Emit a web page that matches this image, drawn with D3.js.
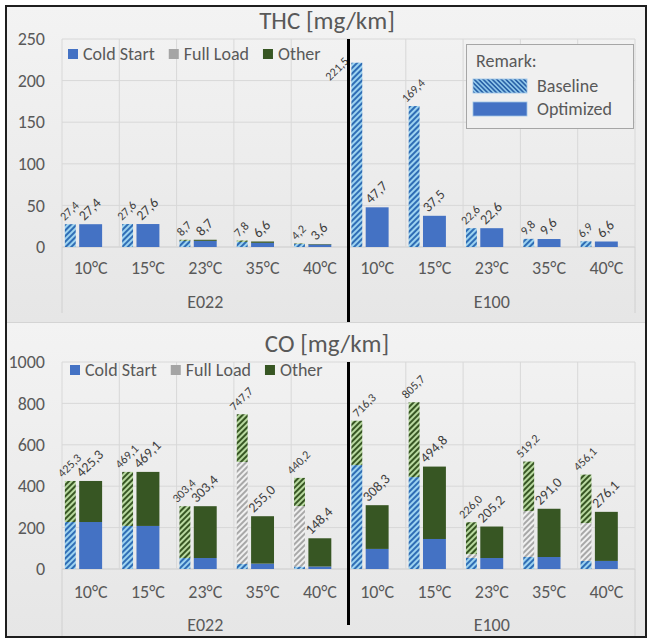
<!DOCTYPE html>
<html>
<head>
<meta charset="utf-8">
<script src="https://cdn.jsdelivr.net/npm/d3@7"></script>
<style>
  body { margin: 0; background: #fff; }
  svg { display: block; }
  text { font-family: Carlito, "Open Sans", Lato, sans-serif; }
</style>
</head>
<body>
<svg id="chart" width="648" height="639"></svg>
<script>
// ---- data -----------------------------------------------------------
const fuels = ["E022", "E100"];
const temperatures = ["10°C", "15°C", "23°C", "35°C", "40°C"];
const components = ["Cold Start", "Full Load", "Other"];
const variants = ["Baseline", "Optimized"];

// THC [mg/km], order: E022 10..40°C, then E100 10..40°C
const thcBaselineTotal     = [27.4, 27.6, 8.7, 7.8, 4.2, 221.5, 169.4, 22.6, 9.8, 6.9];
const thcBaselineColdStart = [27.4, 27.6, 7.4, 6.2, 3.6, 221.5, 169.4, 22.6, 9.8, 6.9];
const thcBaselineFullLoad  = [0, 0, 0, 0, 0, 0, 0, 0, 0, 0];
const thcBaselineOther     = [0, 0, 1.3, 1.6, 0.6, 0, 0, 0, 0, 0];
const thcOptimizedTotal     = [27.4, 27.6, 8.7, 6.6, 3.6, 47.7, 37.5, 22.6, 9.6, 6.6];
const thcOptimizedColdStart = [27.4, 27.6, 7.4, 5.0, 3.0, 47.7, 37.5, 22.6, 9.6, 6.6];
const thcOptimizedFullLoad  = [0, 0, 0, 0, 0, 0, 0, 0, 0, 0];
const thcOptimizedOther     = [0, 0, 1.3, 1.6, 0.6, 0, 0, 0, 0, 0];

// CO [mg/km]
const coBaselineTotal     = [425.3, 469.1, 303.4, 747.7, 440.2, 716.3, 805.7, 226.0, 519.2, 456.1];
const coBaselineColdStart = [227, 208, 53, 24, 12, 502, 444, 53, 58, 39];
const coBaselineFullLoad  = [0, 0, 0, 493, 292, 0, 0, 19, 222, 183];
const coBaselineOther     = [198.3, 261.1, 250.4, 230.7, 136.2, 214.3, 361.7, 154.0, 239.2, 234.1];
const coOptimizedTotal     = [425.3, 469.1, 303.4, 255.0, 148.4, 308.3, 494.8, 205.2, 291.0, 276.1];
const coOptimizedColdStart = [227, 208, 53, 26, 12, 97, 145, 53, 58, 39];
const coOptimizedFullLoad  = [0, 0, 0, 0, 0, 0, 0, 0, 0, 0];
const coOptimizedOther     = [198.3, 261.1, 250.4, 229.0, 136.4, 211.3, 349.8, 152.2, 233.0, 237.1];

const thcTicks = [0, 50, 100, 150, 200, 250];
const coTicks = [0, 200, 400, 600, 800, 1000];

// ---- styling --------------------------------------------------------
const solidColor = { "Cold Start": "#4472C4", "Full Load": "#A5A5A5", "Other": "#375623" };
const hatchColors = {
  "Cold Start": { bg: "#9DD3F0", fg: "#2F6DB5" },
  "Full Load":  { bg: "#F0F0F0", fg: "#A8A8A8" },
  "Other":      { bg: "#B8D9A0", fg: "#375623" }
};
const textColor = "#595959";
const labelColor = "#404040";
const axisFont = "18px";
const fmt = d3.formatLocale({ decimal: ",", thousands: ".", grouping: [3], currency: ["", ""] }).format(".1f");

const svg = d3.select("#chart");
const defs = svg.append("defs");

const bg = defs.append("linearGradient").attr("id", "panelBg").attr("x1", 0).attr("y1", 0).attr("x2", 0).attr("y2", 1);
bg.append("stop").attr("offset", 0).attr("stop-color", "#f3f3f3");
bg.append("stop").attr("offset", 1).attr("stop-color", "#e6e6e6");

const keyId = k => k.replace(/\s/g, "");
function addHatch(id, colors, angle, period) {
  const p = defs.append("pattern").attr("id", id)
    .attr("patternUnits", "userSpaceOnUse").attr("width", period).attr("height", period)
    .attr("patternTransform", `rotate(${angle})`);
  p.append("rect").attr("width", period).attr("height", period).attr("fill", colors.bg);
  p.append("rect").attr("width", period * 0.5).attr("height", period).attr("fill", colors.fg);
}
components.forEach(k => addHatch("hatch" + keyId(k), hatchColors[k], 45, 4));
addHatch("hatchLegend", { bg: "#8FC6EA", fg: "#2A62A8" }, -45, 3.2);

const categories = fuels.flatMap(f => temperatures.map(t => f + "|" + t));
const plotLeft = 62, plotRight = 635;
const x = d3.scaleBand().domain(categories).range([plotLeft, plotRight]).paddingInner(0).paddingOuter(0);
const dividerX = x(fuels[1] + "|" + temperatures[0]);
// horizontal position of each variant's bar inside its category slot
const slot = { "Baseline": [0.05, 0.24], "Optimized": [0.30, 0.70] };
const labelSize = { "Baseline": 12, "Optimized": 14 };

const panels = [
  {
    title: "THC [mg/km]", titleY: 29, top: 6, bottom: 322,
    plotTop: 39, plotBottom: 247, ticks: thcTicks,
    legendX: 68, legendY: 54, catY: 268, groupY: 302, sepBottom: 313,
    dividerTop: 39, dividerBottom: 325, remark: true,
    series: {
      Baseline:  { total: thcBaselineTotal, "Cold Start": thcBaselineColdStart, "Full Load": thcBaselineFullLoad, "Other": thcBaselineOther },
      Optimized: { total: thcOptimizedTotal, "Cold Start": thcOptimizedColdStart, "Full Load": thcOptimizedFullLoad, "Other": thcOptimizedOther }
    }
  },
  {
    title: "CO [mg/km]", titleY: 352, top: 322, bottom: 637,
    plotTop: 362, plotBottom: 569, ticks: coTicks,
    legendX: 70, legendY: 370, catY: 592, groupY: 625, sepBottom: 636,
    dividerTop: 362, dividerBottom: 625, remark: false,
    series: {
      Baseline:  { total: coBaselineTotal, "Cold Start": coBaselineColdStart, "Full Load": coBaselineFullLoad, "Other": coBaselineOther },
      Optimized: { total: coOptimizedTotal, "Cold Start": coOptimizedColdStart, "Full Load": coOptimizedFullLoad, "Other": coOptimizedOther }
    }
  }
];

panels.forEach(P => {
  const g = svg.append("g");
  g.append("rect").attr("x", 6).attr("y", P.top).attr("width", 641).attr("height", P.bottom - P.top)
    .attr("fill", "url(#panelBg)");

  const y = d3.scaleLinear().domain([0, d3.max(P.ticks)]).range([P.plotBottom, P.plotTop]);

  // gridlines
  g.append("g").selectAll("line").data(P.ticks).join("line")
    .attr("x1", plotLeft).attr("x2", plotRight)
    .attr("y1", d => y(d)).attr("y2", d => y(d))
    .attr("stroke", d => d === 0 ? "#cbcbcb" : "#d8d8d8").attr("stroke-width", 1);
  const bounds = categories.map(c => x(c)).concat([plotRight]);
  g.append("g").selectAll("line").data(bounds).join("line")
    .attr("x1", d => d).attr("x2", d => d)
    .attr("y1", P.plotTop).attr("y2", P.plotBottom)
    .attr("stroke", "#d8d8d8");

  // y axis
  const yAxis = g.append("g").attr("transform", `translate(${plotLeft},0)`)
    .call(d3.axisLeft(y).tickValues(P.ticks).tickSize(0).tickPadding(17).tickFormat(d3.format("d")));
  yAxis.select(".domain").remove();
  yAxis.selectAll("text").attr("fill", textColor).style("font-size", axisFont)
    .style("font-family", "Carlito, 'Open Sans', sans-serif");

  // category axis (two levels)
  const xAxis = g.append("g").attr("transform", `translate(0,${P.catY})`)
    .call(d3.axisBottom(x).tickSize(0).tickPadding(0).tickFormat(d => d.split("|")[1]));
  xAxis.select(".domain").remove();
  xAxis.selectAll("text").attr("fill", textColor).attr("dy", "0.35em").attr("y", 0)
    .style("font-size", axisFont).style("font-family", "Carlito, 'Open Sans', sans-serif");

  const groupX = d3.scaleBand().domain(fuels).range([plotLeft, plotRight]);
  g.append("g").selectAll("text").data(fuels).join("text")
    .attr("x", d => groupX(d) + groupX.bandwidth() / 2).attr("y", P.groupY).attr("dy", "0.35em")
    .attr("text-anchor", "middle").attr("fill", textColor).style("font-size", axisFont).text(d => d);
  g.append("g").selectAll("line").data([plotLeft, plotRight]).join("line")
    .attr("x1", d => d).attr("x2", d => d).attr("y1", P.plotBottom).attr("y2", P.sepBottom)
    .attr("stroke", "#d0d0d0");

  // stacked bars
  variants.forEach(v => {
    const s = P.series[v];
    const rows = categories.map((c, i) => {
      const r = { cat: c };
      components.forEach(k => r[k] = s[k][i]);
      return r;
    });
    const stack = d3.stack().keys(components)(rows);
    const [f0, f1] = slot[v];
    const bw = x.bandwidth();
    g.append("g").selectAll("g").data(stack).join("g")
      .attr("fill", d => v === "Baseline" ? `url(#hatch${keyId(d.key)})` : solidColor[d.key])
      .selectAll("rect").data(d => d.filter(p => p[1] > p[0])).join("rect")
      .attr("x", d => x(d.data.cat) + f0 * bw)
      .attr("width", (f1 - f0) * bw)
      .attr("y", d => y(d[1]))
      .attr("height", d => y(d[0]) - y(d[1]));

    // total labels, rotated 45° above each bar
    const fs = labelSize[v];
    const labels = g.append("g").selectAll("text").data(categories).join("text")
      .attr("text-anchor", "middle").attr("dy", "0.35em")
      .attr("fill", labelColor).style("font-size", fs + "px")
      .text((c, i) => fmt(s.total[i]));
    labels.each(function (c, i) {
      const L = this.getComputedTextLength();
      const half = (L + fs * 0.7) * Math.SQRT1_2 / 2;
      const left = x(c) + f0 * bw;
      const top = y(s.total[i]);
      let cx = x(c) + (f0 + f1) / 2 * bw - 1;
      let cy = top - half - 3;
      if (cy - half < P.plotTop) {
        // would run past the top of the plot: sit beside the bar instead
        cx = left - half - 2;
        cy = top + 6;
      } else if (cx > dividerX && cx - half < dividerX + 2) {
        // keep clear of the fuel divider line
        cx = dividerX + half + 3;
      }
      d3.select(this).attr("transform", `translate(${cx},${cy}) rotate(-45)`);
    });
  });

  // fuel divider
  g.append("line").attr("x1", dividerX).attr("x2", dividerX)
    .attr("y1", P.dividerTop).attr("y2", P.dividerBottom)
    .attr("stroke", "#000").attr("stroke-width", 3);

  // title
  g.append("text").attr("x", 327).attr("y", P.titleY).attr("text-anchor", "middle")
    .attr("fill", textColor).style("font-size", "25px").text(P.title);

  // component legend
  const leg = g.append("g");
  let lx = P.legendX;
  components.forEach(k => {
    leg.append("rect").attr("x", lx).attr("y", P.legendY - 5).attr("width", 10).attr("height", 10)
      .attr("fill", solidColor[k]);
    const t = leg.append("text").attr("x", lx + 15).attr("y", P.legendY).attr("dy", "0.35em")
      .attr("fill", textColor).style("font-size", "18px").text(k);
    lx += 15 + t.node().getComputedTextLength() + 14;
  });

  // variant legend
  if (P.remark) {
    const r = g.append("g");
    r.append("rect").attr("x", 466.5).attr("y", 44.5).attr("width", 167).attr("height", 84)
      .attr("fill", "#f0f0f0").attr("stroke", "#a6a6a6");
    r.append("text").attr("x", 476).attr("y", 67).attr("fill", textColor).style("font-size", "18px").text("Remark:");
    const items = [
      { name: "Baseline", fill: "url(#hatchLegend)", y: 79 },
      { name: "Optimized", fill: solidColor["Cold Start"], y: 102 }
    ];
    items.forEach(it => {
      r.append("rect").attr("x", 473).attr("y", it.y).attr("width", 54).attr("height", 14)
        .attr("fill", it.fill).attr("stroke", "#9dc3e6").attr("stroke-width", 0.8);
      r.append("text").attr("x", 537).attr("y", it.y + 7).attr("dy", "0.35em")
        .attr("fill", textColor).style("font-size", "18px").text(it.name);
    });
  }
});

// panel separator and outer frame
svg.append("line").attr("x1", 6).attr("x2", 647).attr("y1", 322.5).attr("y2", 322.5).attr("stroke", "#d4d4d4");
svg.append("rect").attr("x", 6).attr("y", 6).attr("width", 640).attr("height", 631)
  .attr("fill", "none").attr("stroke", "#1e1e1e").attr("stroke-width", 2);
</script>
</body>
</html>
